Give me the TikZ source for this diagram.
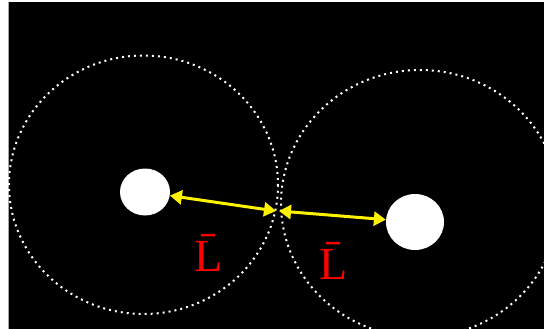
\documentclass[tikz,border=0pt]{standalone}
\usepackage{fontspec}
\setmainfont{Liberation Serif}
\usetikzlibrary{shapes.geometric,arrows.meta}
\begin{document}
\begin{tikzpicture}[x=1pt,y=-1pt,
  disk/.style={ellipse,fill=white,draw=none,inner sep=0pt},
  rangering/.style={draw=white,line width=2pt,dash pattern=on 2pt off 4pt},
  link/.style={draw=yellow,line width=3pt,{Triangle[length=12pt,width=14pt]}-{Triangle[length=12pt,width=14pt]}},
  lbl/.style={text=red,font=\fontsize{46}{46}\selectfont,inner sep=0pt}]
\useasboundingbox (0,0) rectangle (544,329);
\fill[white] (0,0) rectangle (544,329);
\fill[black] (8,2) rectangle (544,329);
\draw[gray!70,line width=1pt] (8,2) -- (8,329);
\begin{scope}
\clip (8,2) rectangle (544,329);
\draw[rangering] (143.5,184.75) ellipse [x radius=134.5, y radius=129.25];
\draw[rangering] (420,203.5) ellipse [x radius=139, y radius=133.5];
\end{scope}
\node[disk,minimum width=50pt,minimum height=47pt] (a) at (145,192) {};
\node[disk,minimum width=58pt,minimum height=56pt] (b) at (415,222) {};
\coordinate (m1) at (276,211);
\coordinate (m2) at (279,211);
\draw[link] (a) -- (m1);
\draw[link] (m2) -- (b);
\node[lbl,anchor=base] (l1) at (209,271) {\=L};
\node[lbl,anchor=base] (l2) at (334,279) {\=L};
\end{tikzpicture}
\end{document}
